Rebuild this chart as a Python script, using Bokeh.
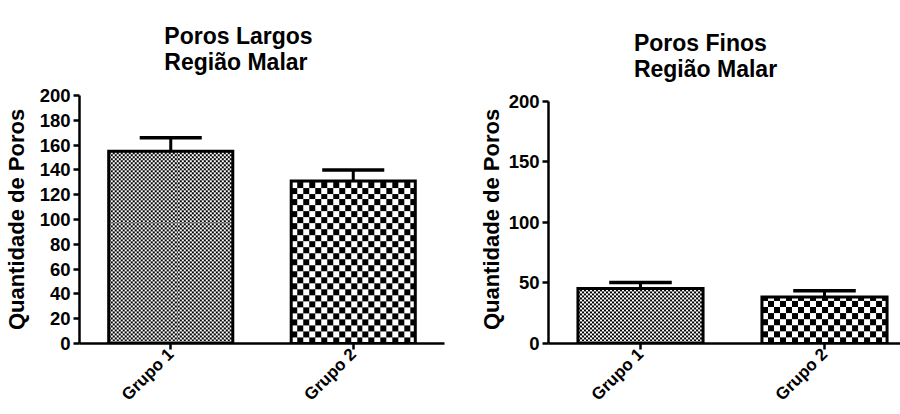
import math
import numpy as np
from bokeh.plotting import figure
from bokeh.models import Range1d, FixedTicker, Title
from bokeh.layouts import row
from bokeh.embed import file_html
from bokeh.resources import INLINE

# ---- data -------------------------------------------------------------
groups = ["Grupo 1", "Grupo 2"]
group_pos = [1, 2]

largos_mean = [155, 131]
largos_sem = [11, 9]

finos_mean = [45.5, 38.5]
finos_sem = [5, 5]

largos_ticks = [0, 20, 40, 60, 80, 100, 120, 140, 160, 180, 200]
finos_ticks = [0, 50, 100, 150, 200]

y_label = "Quantidade de Poros"
FONT = "Liberation Sans"
BAR_W = 0.68
Y_MAX = 200
patterns = ["fine", "coarse"]

HEIGHT = 414
TOP = 94          # shared top border so both frames line up in the row
BOTTOM = 71
FRAME_H = HEIGHT - TOP - BOTTOM
TITLE_PX = 23
# advance widths (em) of bold Arial-metric glyphs, to place the title block
EM = {"P": .667, "o": .611, "r": .389, "s": .556, " ": .278, "L": .611,
      "a": .556, "g": .611, "F": .611, "i": .278, "n": .611, "R": .722,
      "e": .556, "ã": .556, "M": .833, "l": .278}


def text_width(txt, size):
    return sum(EM[c] for c in txt) * size


def texture(w_px, h_px, kind):
    """Black/white checker fill, one array pixel per screen pixel."""
    yy, xx = np.mgrid[0:h_px, 0:w_px]
    cell = 2 if kind == "fine" else 6
    white = ((xx // cell + yy // cell) % 2) == 0
    return np.where(white, 0xFFFFFFFF, 0xFF000000).astype(np.uint32)


def bar_panel(lines, means, errs, ticks, width, left, frame_w, gap_top,
              x_end, label_standoff, title_cx, title_standoff):
    right = width - left - frame_w
    px_y = (FRAME_H - gap_top) / Y_MAX
    y_end = Y_MAX if gap_top == 0 else FRAME_H / px_y
    p = figure(width=width, height=HEIGHT,
               x_range=Range1d(0.5, x_end), y_range=Range1d(0, y_end),
               min_border_left=left, min_border_right=right,
               min_border_top=TOP, min_border_bottom=BOTTOM,
               output_backend="svg", toolbar_location=None)
    p.outline_line_color = None
    p.grid.visible = False
    p.background_fill_color = "white"
    p.border_fill_color = "white"

    px_x = frame_w / (x_end - 0.5)

    # patterned bar bodies
    for xc, m, kind in zip(group_pos, means, patterns):
        img = texture(int(round(BAR_W * px_x)), int(round(m * px_y)), kind)
        p.image_rgba(image=[img], x=xc - BAR_W / 2, y=0, dw=BAR_W, dh=m)

    # SEM whiskers (upper only)
    tops = [m + e for m, e in zip(means, errs)]
    p.segment(x0=group_pos, y0=means, x1=group_pos, y1=tops,
              line_color="black", line_width=3, line_cap="butt")
    p.segment(x0=[x - BAR_W / 4 for x in group_pos], y0=tops,
              x1=[x + BAR_W / 4 for x in group_pos], y1=tops,
              line_color="black", line_width=3.5, line_cap="butt")

    # bar outlines
    p.vbar(x=group_pos, top=means, bottom=0, width=BAR_W,
           fill_alpha=0, line_color="black", line_width=3, line_join="miter")

    # axes
    p.yaxis.ticker = FixedTicker(ticks=ticks)
    p.yaxis.bounds = (0, Y_MAX)
    p.xaxis.ticker = FixedTicker(ticks=group_pos)
    p.xaxis.major_label_overrides = {x: g for x, g in zip(group_pos, groups)}
    p.xaxis.major_label_orientation = math.pi / 4
    for ax in (p.xaxis, p.yaxis):
        ax.axis_line_width = 2.5
        ax.axis_line_color = "black"
        ax.major_tick_line_width = 2.5
        ax.major_tick_line_color = "black"
        ax.major_tick_in = 0
        ax.major_tick_out = 6
        ax.minor_tick_line_color = None
        ax.major_label_text_font = FONT
        ax.major_label_text_font_style = "bold"
        ax.major_label_text_color = "black"
        ax.major_label_standoff = 3
    p.xaxis.major_label_standoff = 2
    p.xaxis.major_label_text_font_size = "17px"
    p.yaxis.major_label_text_font_size = "18.5px"
    p.yaxis.axis_label = y_label
    p.yaxis.axis_label_text_font = FONT
    p.yaxis.axis_label_text_font_style = "bold"
    p.yaxis.axis_label_text_font_size = "22px"
    p.yaxis.axis_label_text_color = "black"
    p.yaxis.axis_label_standoff = label_standoff

    # two-line title block
    block_w = max(text_width(t, TITLE_PX) for t in lines)
    p.add_layout(Title(text="\n".join(lines), align="left",
                       offset=title_cx - block_w / 2 - left,
                       text_font=FONT, text_font_style="bold",
                       text_font_size=f"{TITLE_PX}px", text_color="black",
                       text_line_height=1.0,
                       standoff=title_standoff), "above")
    return p


p_left = bar_panel(["Poros Largos", "Região Malar"], largos_mean, largos_sem,
                   largos_ticks, width=470, left=76, frame_w=368,
                   gap_top=0, x_end=2.5, label_standoff=8,
                   title_cx=235, title_standoff=41)
p_right = bar_panel(["Poros Finos", "Região Malar"], finos_mean, finos_sem,
                    finos_ticks, width=430, left=78, frame_w=352,
                    gap_top=6, x_end=0.5 + 352 / 184, label_standoff=2,
                    title_cx=705 - 470, title_standoff=28)

layout = row(p_left, p_right)
open("out.html", "w").write(file_html(layout, INLINE))
